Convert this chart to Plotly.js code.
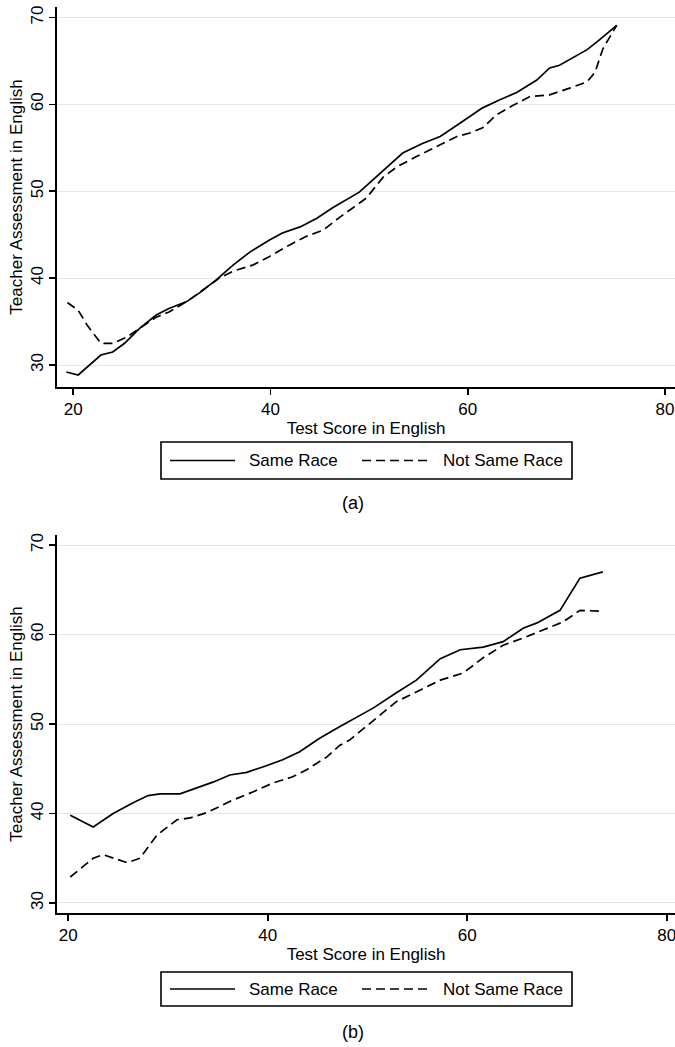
<!DOCTYPE html>
<html>
<head>
<meta charset="utf-8">
<script src="https://cdn.plot.ly/plotly-3.0.1.min.js"></script>
<style>html,body{margin:0;padding:0;background:#fff;}#chart{width:675px;height:1047px;}</style>
</head>
<body>
<div id="chart"></div>
<script>
// ---- Data ----
const seriesNames = ["Same Race", "Not Same Race"];
const panelLabels = ["(a)", "(b)"];
const xTitle = "Test Score in English";
const yTitle = "Teacher Assessment in English";
const xTicks = [20, 40, 60, 80];
const yTicks = [30, 40, 50, 60, 70];

// Panel (a)
const aSameX = [19.3,20.5,22.8,24.0,25.2,26.7,28.4,29.7,31.5,32.8,34.5,36.2,37.9,39.9,41.2,43.0,44.7,46.3,49.0,50.1,51.4,53.4,55.4,57.2,58.9,61.5,63.2,65.0,67.0,68.3,69.3,71.1,72.1,73.1,75.1];
const aSameY = [29.2,28.85,31.15,31.5,32.5,34.2,35.75,36.5,37.3,38.3,39.8,41.5,43.0,44.4,45.2,45.9,46.9,48.1,49.9,51.0,52.4,54.4,55.5,56.3,57.6,59.6,60.5,61.4,62.8,64.2,64.5,65.7,66.3,67.2,69.1];
const aNotX = [19.4,20.5,21.4,22.8,24.0,25.4,26.7,28.4,29.7,31.5,33.1,34.8,36.2,38.2,39.9,41.9,43.6,45.3,47.0,48.0,49.7,51.4,52.8,54.8,56.8,58.9,60.2,61.5,62.9,64.6,66.3,68.3,70.4,72.1,72.9,73.7,75.1];
const aNotY = [37.2,36.3,34.6,32.5,32.5,33.2,34.2,35.5,36.1,37.3,38.6,40.0,40.8,41.5,42.5,43.8,44.8,45.5,47.0,47.8,49.2,51.6,52.8,54.0,55.1,56.3,56.7,57.3,58.8,59.9,60.9,61.1,61.9,62.6,63.7,66.4,69.1];

// Panel (b)
const bSameX = [20.2,22.5,24.5,26.5,28.0,29.2,31.2,33.2,34.5,36.2,37.9,39.5,41.5,43.2,45.2,47.2,50.6,52.9,54.9,57.3,59.3,61.6,63.6,65.6,67.0,69.3,71.3,73.6];
const bSameY = [39.8,38.5,40.0,41.2,42.0,42.2,42.2,43.0,43.5,44.3,44.6,45.2,46.0,46.9,48.4,49.7,51.8,53.5,54.9,57.3,58.3,58.6,59.2,60.7,61.3,62.7,66.3,67.0];
const bNotX = [20.2,22.5,23.5,24.5,25.9,27.2,28.9,30.9,32.2,33.9,36.5,38.5,40.5,42.5,43.9,45.9,47.2,48.2,50.6,52.9,55.3,57.3,59.6,61.6,63.6,65.6,67.6,69.6,71.3,73.6];
const bNotY = [32.9,35.0,35.4,35.0,34.5,35.0,37.6,39.3,39.5,40.1,41.5,42.4,43.4,44.1,44.9,46.3,47.6,48.2,50.4,52.5,53.8,54.9,55.7,57.4,58.8,59.6,60.5,61.4,62.7,62.6];

// ---- Styling ----
const W = 675, H = 1047;
const FONT = "Liberation Sans, Arial, Helvetica, sans-serif";
const FS = 17;
const px = v => v / W;
const py = v => 1 - v / H;
const DASH = "9px,5px";
const LW = 1.7;

function line(x, y, dash, xa, ya, name) {
  return {type: "scatter", mode: "lines", x: x, y: y, xaxis: xa, yaxis: ya, name: name,
    line: {color: "#000", width: LW, dash: dash}, showlegend: false, hoverinfo: "x+y"};
}

const traces = [
  line(aSameX, aSameY, "solid", "x", "y", seriesNames[0]),
  line(aNotX, aNotY, DASH, "x", "y", seriesNames[1]),
  line(bSameX, bSameY, "solid", "x2", "y2", seriesNames[0]),
  line(bNotX, bNotY, DASH, "x2", "y2", seriesNames[1])
];

function xAxis(domain, range, anchor) {
  return {domain: domain, range: range, anchor: anchor, tickvals: xTicks, ticktext: xTicks.map(String),
    showline: true, linecolor: "#000", linewidth: 1.6, ticks: "outside", ticklen: 6, tickwidth: 1.6,
    tickcolor: "#000", showgrid: false, zeroline: false, ticklabeloverflow: "allow",
    tickfont: {family: FONT, size: FS, color: "#000"},
    title: {text: xTitle, font: {family: FONT, size: FS, color: "#000"}, standoff: 4}};
}
function yAxis(domain, range, anchor) {
  return {domain: domain, range: range, anchor: anchor, tickvals: yTicks, ticktext: yTicks.map(String),
    tickangle: -90, showline: true, linecolor: "#000", linewidth: 1.6, ticks: "outside", ticklen: 6,
    tickwidth: 1.6, tickcolor: "#000", showgrid: true, gridcolor: "#e6e6e6", gridwidth: 1, zeroline: false,
    tickfont: {family: FONT, size: FS, color: "#000"},
    title: {text: yTitle, font: {family: FONT, size: FS, color: "#000"}, standoff: 0}};
}

const shapes = [];
const annotations = [];
function legendBox(top, bottom) {
  const cy = (top + bottom) / 2;
  shapes.push({type: "rect", xref: "paper", yref: "paper", x0: px(161), x1: px(572), y0: py(bottom), y1: py(top),
    line: {color: "#000", width: 1.6}, fillcolor: "rgba(0,0,0,0)"});
  shapes.push({type: "line", xref: "paper", yref: "paper", x0: px(170), x1: px(235), y0: py(cy), y1: py(cy),
    line: {color: "#000", width: LW}});
  shapes.push({type: "line", xref: "paper", yref: "paper", x0: px(362), x1: px(431), y0: py(cy), y1: py(cy),
    line: {color: "#000", width: LW, dash: DASH}});
  annotations.push({xref: "paper", yref: "paper", x: px(247), y: py(cy), xanchor: "left", yanchor: "middle",
    text: seriesNames[0], showarrow: false, font: {family: FONT, size: FS, color: "#000"}});
  annotations.push({xref: "paper", yref: "paper", x: px(441), y: py(cy), xanchor: "left", yanchor: "middle",
    text: seriesNames[1], showarrow: false, font: {family: FONT, size: FS, color: "#000"}});
}
legendBox(442, 479);
legendBox(972, 1006);
annotations.push({xref: "paper", yref: "paper", x: px(353), y: py(503), xanchor: "center", yanchor: "middle",
  text: panelLabels[0], showarrow: false, font: {family: FONT, size: 18, color: "#000"}});
annotations.push({xref: "paper", yref: "paper", x: px(353), y: py(1032), xanchor: "center", yanchor: "middle",
  text: panelLabels[1], showarrow: false, font: {family: FONT, size: 18, color: "#000"}});

const layout = {
  width: W, height: H, margin: {l: 0, r: 0, t: 0, b: 0},
  paper_bgcolor: "#fff", plot_bgcolor: "#fff", showlegend: false,
  font: {family: FONT, color: "#000"},
  xaxis: xAxis([px(57), 1], [18.35, 81.01], "y"),
  yaxis: yAxis([py(387), py(7)], [27.47, 71.21], "x"),
  xaxis2: xAxis([px(57), 1], [18.87, 80.83], "y2"),
  yaxis2: yAxis([py(913), py(535)], [28.88, 71.12], "x2"),
  shapes: shapes, annotations: annotations
};

Plotly.newPlot("chart", traces, layout, {staticPlot: true, displayModeBar: false});
</script>
</body>
</html>
